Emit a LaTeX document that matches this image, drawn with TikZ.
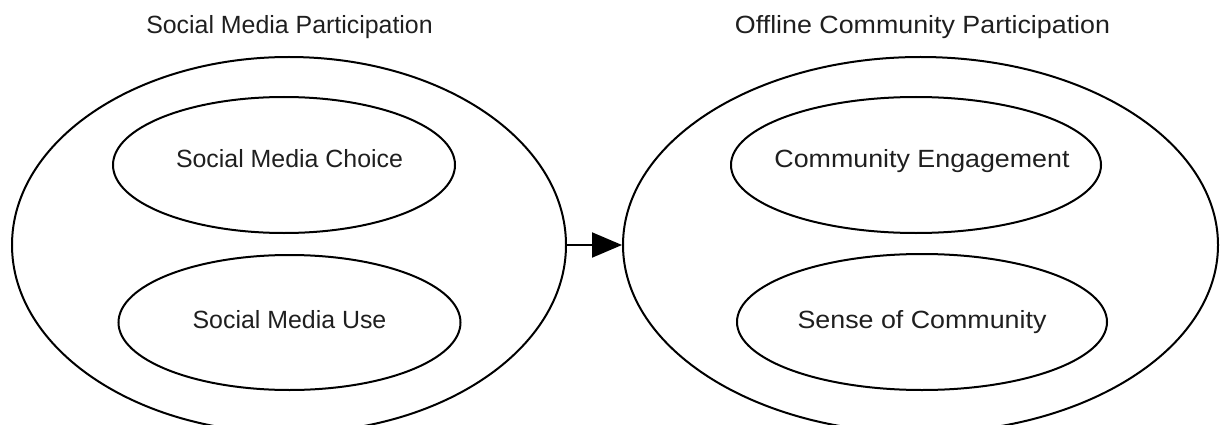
\documentclass[tikz,border=0pt]{standalone}
\usepackage{fontspec}
\setmainfont{Liberation Sans}
\usetikzlibrary{shapes.geometric,arrows.meta}
\tikzset{
  outline/.style={draw=black, line width=2pt, ellipse, inner sep=0pt},
  lbl/.style={anchor=base, inner sep=0pt, text=black!88, font=\fontsize{24.9}{30}\selectfont},
  link/.style={draw=black, line width=2pt, -{Triangle[length=30pt,width=25pt]}}
}
\newcommand{\wide}[1]{\scalebox{1.077}[1]{#1}}
\begin{document}
\begin{tikzpicture}[x=1pt,y=-1pt]
\useasboundingbox (0,0) rectangle (1220,425);
\clip (0,0) rectangle (1220,425);
% outer groups
\node[outline, minimum width=554pt, minimum height=376pt] (L) at (289,245) {};
\node[outline, minimum width=595pt, minimum height=376pt] (R) at (920.5,245) {};
% inner constructs
\node[outline, minimum width=342pt, minimum height=136pt] (LT) at (284,165) {};
\node[outline, minimum width=342pt, minimum height=135pt] (LB) at (289.5,322.5) {};
\node[outline, minimum width=370pt, minimum height=136pt] (RT) at (916,165) {};
\node[outline, minimum width=370pt, minimum height=136pt] (RB) at (922,322) {};
% titles
\node[lbl] (tL) at (289.5,34) {Social Media Participation};
\node[lbl] (tR) at (922.5,34) {\wide{Offline Community Participation}};
% inner labels
\node[lbl] (xLT) at (289.5,167) {Social Media Choice};
\node[lbl] (xLB) at (289.5,328) {Social Media Use};
\node[lbl] (xRT) at (922,167) {\wide{Community Engagement}};
\node[lbl] (xRB) at (922,328) {\wide{Sense of Community}};
% connector
\draw[link] (L.east) -- (R.west);
\end{tikzpicture}
\end{document}
